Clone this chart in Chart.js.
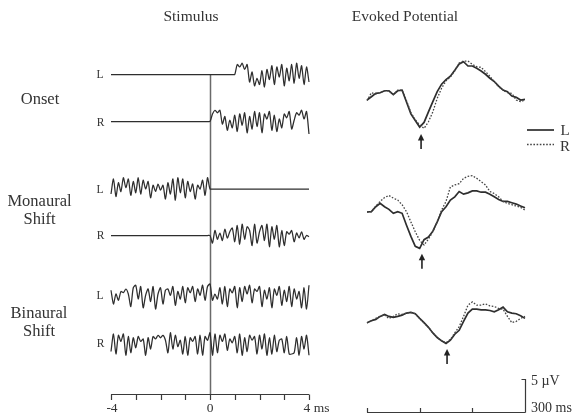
<!DOCTYPE html>
<html><head><meta charset="utf-8">
<script src="https://cdn.jsdelivr.net/npm/chart.js@4.4.1/dist/chart.umd.min.js"></script>
<style>
html,body{margin:0;padding:0;background:#fff;}
#wrap{position:relative;width:576px;height:419px;overflow:hidden;background:#fff;}
canvas{position:absolute;left:0;top:0;}
.t{position:absolute;transform:translate(-50%,-50%);font-family:'Liberation Serif','Times New Roman',serif;color:#333;line-height:1;white-space:nowrap;}
.s{position:absolute;transform:translate(0,-50%);font-family:'Liberation Serif','Times New Roman',serif;color:#333;line-height:1;white-space:nowrap;}
</style></head>
<body><div id="wrap"><canvas id="c" width="576" height="419"></canvas>
<div class="t" style="left:191px;top:15.5px;font-size:15.5px">Stimulus</div>
<div class="t" style="left:405px;top:15.5px;font-size:15.5px">Evoked Potential</div>
<div class="t" style="left:40px;top:99px;font-size:16.5px">Onset</div>
<div class="t" style="left:39.5px;top:200.5px;font-size:16.5px">Monaural</div>
<div class="t" style="left:39.5px;top:218.5px;font-size:16.5px">Shift</div>
<div class="t" style="left:39px;top:312.5px;font-size:16.5px">Binaural</div>
<div class="t" style="left:39px;top:330.5px;font-size:16.5px">Shift</div>
<div class="t" style="left:100px;top:75px;font-size:11.5px">L</div>
<div class="t" style="left:100.5px;top:122.5px;font-size:11.5px">R</div>
<div class="t" style="left:100px;top:189.5px;font-size:11.5px">L</div>
<div class="t" style="left:100.5px;top:236px;font-size:11.5px">R</div>
<div class="t" style="left:100px;top:296px;font-size:11.5px">L</div>
<div class="t" style="left:100.5px;top:344px;font-size:11.5px">R</div>
<div class="t" style="left:112px;top:408px;font-size:13.5px">-4</div>
<div class="t" style="left:210px;top:408px;font-size:13.5px">0</div>
<div class="s" style="left:303.5px;top:408px;font-size:13.5px">4 ms</div>
<div class="t" style="left:565px;top:130px;font-size:15px">L</div>
<div class="t" style="left:565px;top:146px;font-size:15px">R</div>
<div class="s" style="left:531px;top:381px;font-size:14px">5 µV</div>
<div class="s" style="left:531px;top:408px;font-size:14px">300 ms</div>
</div>
<script>
// ---------- DATA ----------
const stimTime = [-4.0,-3.9,-3.8,-3.7,-3.6,-3.5,-3.4,-3.3,-3.2,-3.1,-3.0,-2.9,-2.8,-2.7,-2.6,-2.5,-2.4,-2.3,-2.2,-2.1,-2.0,-1.9,-1.8,-1.7,-1.6,-1.5,-1.4,-1.3,-1.2,-1.1,-1.0,-0.9,-0.8,-0.7,-0.6,-0.5,-0.4,-0.3,-0.2,-0.1,0.0,0.1,0.2,0.3,0.4,0.5,0.6,0.7,0.8,0.9,1.0,1.1,1.2,1.3,1.4,1.5,1.6,1.7,1.8,1.9,2.0,2.1,2.2,2.3,2.4,2.5,2.6,2.7,2.8,2.9,3.0,3.1,3.2,3.3,3.4,3.5,3.6,3.7,3.8,3.9,4.0];

const onsetL = [0,0,0,0,0,0,0,0,0,0, 0,0,0,0,0,0,0,0,0,0, 0,0,0,0,0,0,0,0,0,0, 0,0,0,0,0,0,0,0,0,0, 0,0,0,0,0,0,0,0,0,0,
  0,8,6,9,4,8,-6,2,-9,-3, -8,3,-10,4,-4,7,-8,6,-2,8, -9,5,-5,8,-7,9,-3,7,-8,6, -6];
const onsetR = [0,0,0,0,0,0,0,0,0,0, 0,0,0,0,0,0,0,0,0,0, 0,0,0,0,0,0,0,0,0,0, 0,0,0,0,0,0,0,0,0,0,
  0,6,9,7,9,-2,4,-7,1,-5, 5,-8,6,-3,7,-9,4,-6,8,-4, 7,-9,6,2,8,-7,5,-8,2,-5, 6,3,8,-6,1,7,5,9,2,8, -10];
const monoL = [-4,8,-6,5,-2,9,1,8,-5,6, -3,9,-4,7,0,6,-7,3,-2,4, -1,3,-8,5,-4,8,-9,9,-3,8, -7,6,-2,4,-8,3,0,7,-5,9,
  0, 0,0,0,0,0,0,0,0,0,0, 0,0,0,0,0,0,0,0,0,0, 0,0,0,0,0,0,0,0,0,0, 0,0,0,0,0,0,0,0,0,0];
const monoR = [0,0,0,0,0,0,0,0,0,0, 0,0,0,0,0,0,0,0,0,0, 0,0,0,0,0,0,0,0,0,0, 0,0,0,0,0,0,0,0,0,0,
  0,-6,4,-3,2,-4,5,-2,3,6, -5,8,-7,9,-3,7,4,-8,9,-6, 3,8,-4,9,-9,7,-3,8,-9,4, -8,3,1,4,-5,2,-2,3,-3,0, -1];
const binL = [5,-6,2,-3,4,3,6,2,-8,7, 9,-2,8,-9,1,6,-4,8,-10,2, 7,-6,5,6,1,8,-7,4,-2,8, -5,7,3,8,-4,6,1,9,-3,8,
  10,-3,2,-2,7,-6,8,-8,6,3, 8,-9,7,-4,8,2,9,-5,6,4, 8,-8,5,-2,7,-9,6,1,8,-7, 5,-4,8,-8,6,-2,4,-9,7,-10, 9];
const binR = [-6,8,-8,7,2,8,-9,6,-7,5, -3,6,2,4,-9,5,-4,6,4,7, 5,7,3,-7,9,-4,7,-2,3,-8, 6,-9,5,2,6,-8,7,-9,6,3,
  9,-9,8,-7,7,2,8,-5,4,1, 6,-7,8,-9,5,-6,7,3,6,-8, 7,-4,8,-9,5,-8,7,-6,3,4, -7,6,-8,-8,-7,5,-9,6,-4,7, -9];

const epTime = [0,25,50,75,100,125,150,175,200,225,250,275,300,325,350,375,400,425,450,475,500,525,550,575,600,625,650,675,700,725,750,775,800,825,850,875,900];
const onsetSolidL = [0,0.5,1.0,1.1,1.4,1.4,0.8,1.4,1.5,-0.3, -2.1,-3.1,-4.1,-3.4,-1.8,-0.25,1.26,2.4,3.1,3.6, 4.5,5.45,5.8,5.15,5.15,4.8,4.4,3.9,3.3,2.8, 2.1,1.5,1.26,0.6,0.4,0,0.1];
const onsetDottedR = [-0.1,1.1,0.9,1.1,1.4,1.4,0.85,1.5,1.5,-0.1, -1.9,-3.0,-3.8,-4.3,-3.3,-1.8,0.25,1.8,2.9,3.5, 4.4,5.6,5.9,5.9,5.4,5.05,4.95,4.3,3.6,2.8, 2.0,1.5,1.1,1.0,0,-0.25,0];
const monoSolidL = [0,0.05,0.8,1.3,0.8,0.4,-0.2,0.05,-0.2,-2.0, -3.7,-5.2,-5.5,-4.2,-3.8,-2.9,-1.5,0.05,0.8,1.8, 2.3,3.1,2.7,2.9,3.2,3.2,3.0,3.0,2.7,2.3, 1.9,1.6,1.6,1.4,1.2,0.9,0.65];
const monoDottedR = [0,0.05,0.9,1.6,2.2,2.5,2.1,1.8,1.1,0.05, -1.5,-3.0,-4.3,-5.0,-4.1,-3.0,-1.5,0.3,1.6,3.8, 4.1,4.3,5.1,5.4,5.5,5.1,4.6,4.1,3.1,2.8, 2.3,1.6,1.3,1.1,0.9,0.7,0.3];
const binSolidL = [0.05,0.35,0.55,1.0,1.3,1.0,0.85,1.0,1.2,1.5, 1.6,1.4,0.7,0.05,-0.65,-1.5,-2.2,-2.7,-3.1,-2.6, -1.7,-1.1,0.25,1.5,2.1,2.1,2.0,2.0,1.9,1.7, 2.0,2.4,1.7,1.5,1.4,1.1,0.7];
const binDottedR = [0,0.35,0.7,1.05,1.2,0.7,1.0,1.4,1.3,1.5, 1.6,1.4,0.7,0,-0.65,-1.5,-2.2,-2.7,-3.0,-2.5, -1.5,-0.55,1.0,2.7,3.2,2.7,2.7,2.9,2.6,2.5, 2.2,2.1,1.0,0.05,0.25,0.7,1.0];
const epArrowTimes = [308, 313, 456];
const stimTicks = [-4,-3,-2,-1,0,1,2,3,4];
const epTicks = [0,300,600,900];
const epScaleMicroV = 5;

// ---------- LAYOUT ----------
const W = 576, H = 419;
const stimXPx = [111, 309], epXPx = [367, 525];
const stimUnitPx = 1.25, epUnitPx = 6.6;
const stimBase = [74.5, 121.5, 189, 235.5, 296.5, 344];
const epBase = [100, 212, 323];
const stimAxisY = 394.5, epAxisY = 412.5;
const INK = '#2e2e2e';

function xRange(px, v0, v1) { const k = (px[1]-px[0])/(v1-v0); const min = v0 - px[0]/k; return {min, max: min + W/k}; }
function yRange(base, k) { return {min: (base - H)/k, max: base/k}; }

const scales = {
  xs: Object.assign({type:'linear', display:false}, xRange(stimXPx, stimTicks[0], stimTicks[stimTicks.length-1])),
  xe: Object.assign({type:'linear', display:false}, xRange(epXPx, epTicks[0], epTicks[epTicks.length-1]))
};
stimBase.forEach((b,i)=>{ scales['ys'+i] = Object.assign({type:'linear', display:false}, yRange(b, stimUnitPx)); });
epBase.forEach((b,i)=>{ scales['ye'+i] = Object.assign({type:'linear', display:false}, yRange(b, epUnitPx)); });

const stimSeries = [onsetL, onsetR, monoL, monoR, binL, binR];
const epSeries = [[onsetSolidL, onsetDottedR],[monoSolidL, monoDottedR],[binSolidL, binDottedR]];

const datasets = [];
stimSeries.forEach((vals,i)=>{
  datasets.push({data: stimTime.map((t,j)=>({x:t, y:vals[j]})), xAxisID:'xs', yAxisID:'ys'+i,
    borderColor: INK, borderWidth: 1.25, pointRadius:0, showLine:true, tension:0.25});
});
epSeries.forEach((pair,i)=>{
  datasets.push({data: epTime.map((t,j)=>({x:t, y:pair[1][j]})), xAxisID:'xe', yAxisID:'ye'+i,
    borderColor: '#444', borderWidth: 1.3, borderDash:[1.6,1.6], pointRadius:0, showLine:true, tension:0});
  datasets.push({data: epTime.map((t,j)=>({x:t, y:pair[0][j]})), xAxisID:'xe', yAxisID:'ye'+i,
    borderColor: INK, borderWidth: 1.7, pointRadius:0, showLine:true, tension:0});
});

const frame = {
  id:'frame',
  beforeDatasetsDraw(chart){
    const ctx = chart.ctx, xs = chart.scales.xs;
    const x0 = Math.round(xs.getPixelForValue(0)) + 0.5;
    ctx.save(); ctx.strokeStyle = '#6a6a6a'; ctx.lineWidth = 1.5;
    ctx.beginPath(); ctx.moveTo(x0, chart.scales.ys0.getPixelForValue(0)); ctx.lineTo(x0, stimAxisY); ctx.stroke();
    ctx.restore();
  },
  afterDatasetsDraw(chart){
    const ctx = chart.ctx, xs = chart.scales.xs, xe = chart.scales.xe;
    ctx.save(); ctx.strokeStyle = '#3a3a3a'; ctx.lineWidth = 1.2;
    ctx.beginPath();
    ctx.moveTo(xs.getPixelForValue(stimTicks[0]), stimAxisY); ctx.lineTo(xs.getPixelForValue(stimTicks[stimTicks.length-1]), stimAxisY);
    stimTicks.forEach(t=>{ const x = Math.round(xs.getPixelForValue(t))+0.5; ctx.moveTo(x, stimAxisY); ctx.lineTo(x, stimAxisY+5.5); });
    ctx.stroke();
    ctx.beginPath();
    const ex0 = xe.getPixelForValue(epTicks[0]), ex1 = Math.round(xe.getPixelForValue(epTicks[epTicks.length-1]))+0.5;
    ctx.moveTo(ex0, epAxisY); ctx.lineTo(ex1, epAxisY);
    epTicks.forEach(t=>{ const x = Math.round(xe.getPixelForValue(t))+0.5; ctx.moveTo(x, epAxisY); ctx.lineTo(x, epAxisY-4.5); });
    const topY = epAxisY - epScaleMicroV*epUnitPx;
    ctx.moveTo(ex1, epAxisY); ctx.lineTo(ex1, topY); ctx.lineTo(ex1-4, topY);
    ctx.stroke();
    ctx.fillStyle = '#222'; ctx.strokeStyle = '#222'; ctx.lineWidth = 1.6;
    epArrowTimes.forEach((t,i)=>{
      const ys = chart.scales['ye'+i];
      const mn = Math.min(...epSeries[i][0], ...epSeries[i][1]);
      const tip = ys.getPixelForValue(mn) + 5.5;
      const x = xe.getPixelForValue(t);
      ctx.beginPath(); ctx.moveTo(x, tip+5); ctx.lineTo(x, tip+15); ctx.stroke();
      ctx.beginPath(); ctx.moveTo(x, tip); ctx.lineTo(x-3.2, tip+6.5); ctx.lineTo(x+3.2, tip+6.5); ctx.closePath(); ctx.fill();
    });
    ctx.strokeStyle = INK; ctx.lineWidth = 1.7;
    ctx.beginPath(); ctx.moveTo(527, 130); ctx.lineTo(554, 130); ctx.stroke();
    ctx.strokeStyle = '#444'; ctx.lineWidth = 1.3; ctx.setLineDash([1.6,1.6]);
    ctx.beginPath(); ctx.moveTo(527, 144.5); ctx.lineTo(554, 144.5); ctx.stroke();
    ctx.restore();
  }
};

new Chart(document.getElementById('c'), {
  type:'scatter',
  data:{datasets},
  options:{
    responsive:false, animation:false, devicePixelRatio:1,
    layout:{padding:0},
    plugins:{legend:{display:false}, tooltip:{enabled:false}, title:{display:false}},
    scales,
    elements:{point:{radius:0}},
    events:[]
  },
  plugins:[frame]
});
</script>
</body></html>
